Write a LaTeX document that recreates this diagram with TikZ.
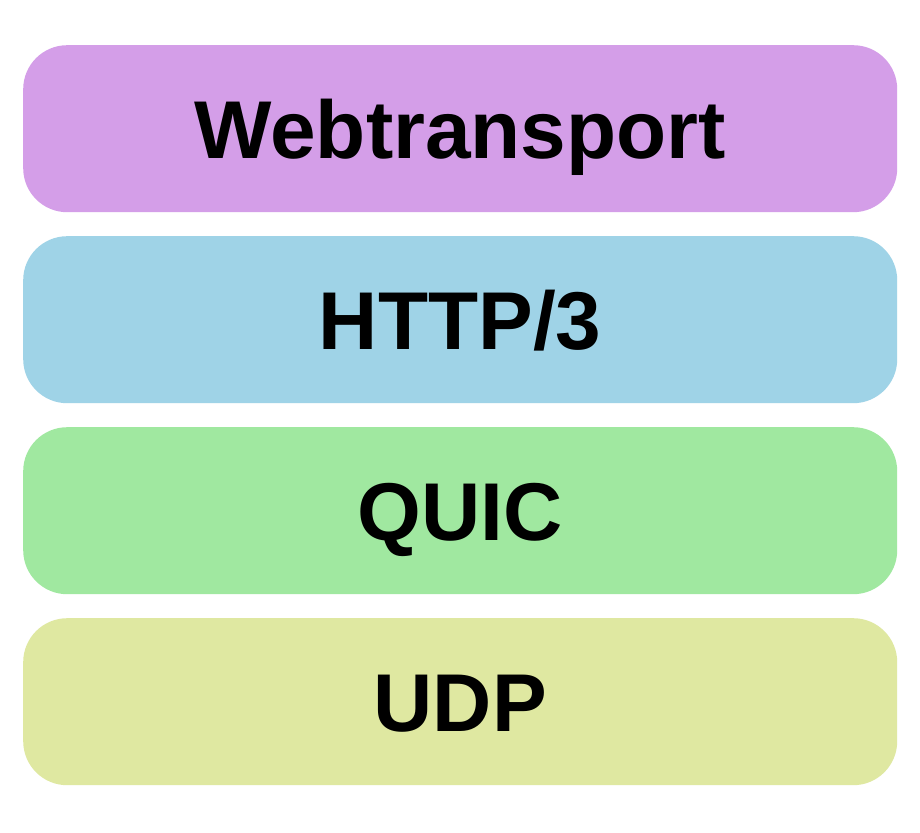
\documentclass[tikz,border=0pt]{standalone}
\usepackage{fontspec}
\setmainfont{Liberation Sans}
\definecolor{cweb}{HTML}{D49EE8}
\definecolor{chttp}{HTML}{9FD3E7}
\definecolor{cquic}{HTML}{A0E8A0}
\definecolor{cudp}{HTML}{DFE8A1}
\tikzset{
  layer/.style={rounded corners=44pt, minimum width=874pt, minimum height=167pt,
    inner sep=0pt, text height=59pt, text depth=0pt,
    font=\fontsize{82}{90}\selectfont\bfseries, text=black, anchor=north west},
}
\begin{document}
\begin{tikzpicture}[x=1pt,y=-1pt]
\useasboundingbox[fill=white] (0,0) rectangle (920,832);
\node[layer, fill=cweb] (web) at (23,45) {Webtransport};
\node[layer, fill=chttp] (http) at (23,236) {HTTP/3};
\node[layer, fill=cquic] (quic) at (23,427) {QUIC};
\node[layer, fill=cudp] (udp) at (23,618) {UDP};
\end{tikzpicture}
\end{document}
